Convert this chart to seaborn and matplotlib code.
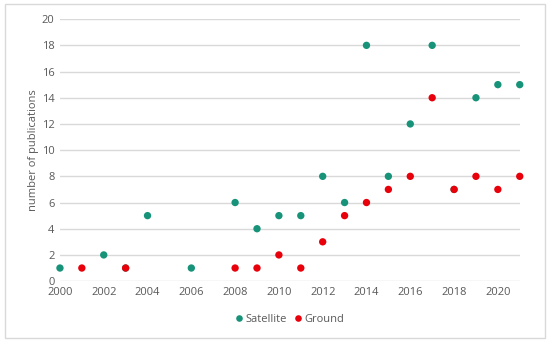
import numpy as np
import pandas as pd
import matplotlib
matplotlib.use("Agg")
import matplotlib.pyplot as plt
import seaborn as sns
from matplotlib.patches import Rectangle

sat_years = [2000, 2002, 2003, 2004, 2006, 2008, 2009, 2010, 2011, 2012, 2013,
             2014, 2015, 2016, 2017, 2018, 2019, 2020, 2021]
sat_counts = [1, 2, 1, 5, 1, 6, 4, 5, 5, 8, 6, 18, 8, 12, 18, 7, 14, 15, 15]
gnd_years = [2001, 2003, 2008, 2009, 2010, 2011, 2012, 2013, 2014, 2015, 2016,
             2017, 2018, 2019, 2020, 2021]
gnd_counts = [1, 1, 1, 1, 2, 1, 3, 5, 6, 7, 8, 14, 7, 8, 7, 8]

df = pd.concat([
    pd.DataFrame({"year": sat_years, "count": sat_counts, "type": "Satellite"}),
    pd.DataFrame({"year": gnd_years, "count": gnd_counts, "type": "Ground"}),
])

sns.set_style("white")
plt.rcParams['font.family'] = ['Open Sans', 'DejaVu Sans']
text_col = '#595959'

fig = plt.figure(figsize=(5.5, 3.42), dpi=100)
ax = fig.add_axes([0.109, 0.178, 0.836, 0.766])

palette = {"Satellite": "#17937a", "Ground": "#e8000b"}
sns.scatterplot(data=df, x="year", y="count", hue="type", palette=palette,
                s=28, linewidth=0, ax=ax, clip_on=False, zorder=3)

ax.set_xlim(2000, 2021)
ax.set_ylim(0, 20)
ax.set_xticks(np.arange(2000, 2021, 2))
ax.set_yticks(np.arange(0, 21, 2))
ax.yaxis.grid(True, color='#d9d9d9', linewidth=1)
ax.set_axisbelow(True)
for s in ax.spines.values():
    s.set_visible(False)
ax.tick_params(axis='both', length=0, labelsize=8, colors=text_col, pad=4)
ax.set_xlabel('')
ax.set_ylabel('number of publications', fontsize=8, color=text_col, labelpad=2)

handles, labels = ax.get_legend_handles_labels()
ax.legend(handles, labels, loc='lower center', bbox_to_anchor=(0.5, -0.205),
          ncol=2, frameon=False, fontsize=8, labelcolor=text_col,
          handlelength=0.7, handletextpad=0.2, columnspacing=0.7, markerscale=0.9)

fig.patches.append(Rectangle((0.009, 0.012), 0.982, 0.976, transform=fig.transFigure,
                             fill=False, edgecolor='#d9d9d9', linewidth=1))

fig.savefig("out.png", dpi=100)
